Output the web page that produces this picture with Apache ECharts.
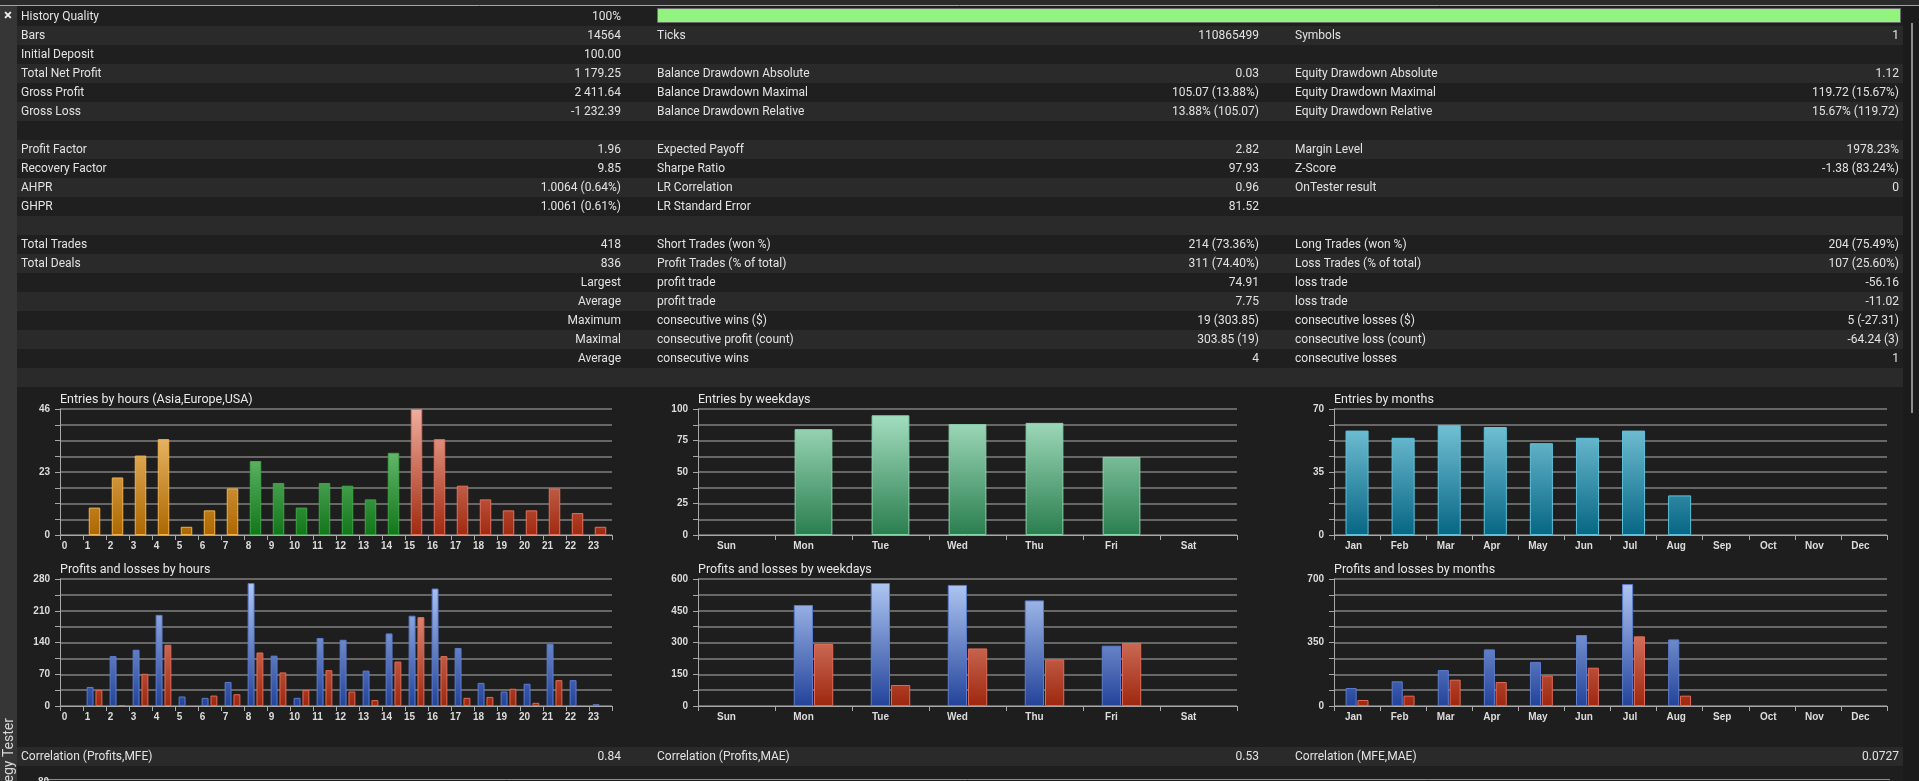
<!DOCTYPE html>
<html>
<head>
    <meta charset="utf-8">
    <style>
        html, body {
            width: 100%;
            height: 100%;
            margin: 0;
            background: #1e1e1e;
            overflow: hidden;
        }

        #chart-panel {
            width: 1919px;
            height: 781px;
        }
    </style>
    <script src="https://cdn.jsdelivr.net/npm/echarts@6/dist/echarts.min.js"></script>
</head>
<body>
<div id="chart-panel"></div>
<script type="text/javascript">
  // report table, one array per column
  var leftLabels = ['History Quality', 'Bars', 'Initial Deposit', 'Total Net Profit', 'Gross Profit', 'Gross Loss', '',
    'Profit Factor', 'Recovery Factor', 'AHPR', 'GHPR', '',
    'Total Trades', 'Total Deals', '', '', '', '', '', '']
  var leftValues = ['100%', '14564', '100.00', '1 179.25', '2 411.64', '-1 232.39', '',
    '1.96', '9.85', '1.0064 (0.64%)', '1.0061 (0.61%)', '',
    '418', '836', 'Largest', 'Average', 'Maximum', 'Maximal', 'Average', '']
  var midLabels = ['', 'Ticks', '', 'Balance Drawdown Absolute', 'Balance Drawdown Maximal', 'Balance Drawdown Relative', '',
    'Expected Payoff', 'Sharpe Ratio', 'LR Correlation', 'LR Standard Error', '',
    'Short Trades (won %)', 'Profit Trades (% of total)', 'profit trade', 'profit trade',
    'consecutive wins ($)', 'consecutive profit (count)', 'consecutive wins', '']
  var midValues = ['', '110865499', '', '0.03', '105.07 (13.88%)', '13.88% (105.07)', '',
    '2.82', '97.93', '0.96', '81.52', '',
    '214 (73.36%)', '311 (74.40%)', '74.91', '7.75', '19 (303.85)', '303.85 (19)', '4', '']
  var rightLabels = ['', 'Symbols', '', 'Equity Drawdown Absolute', 'Equity Drawdown Maximal', 'Equity Drawdown Relative', '',
    'Margin Level', 'Z-Score', 'OnTester result', '', '',
    'Long Trades (won %)', 'Loss Trades (% of total)', 'loss trade', 'loss trade',
    'consecutive losses ($)', 'consecutive loss (count)', 'consecutive losses', '']
  var rightValues = ['', '1', '', '1.12', '119.72 (15.67%)', '15.67% (119.72)', '',
    '1978.23%', '-1.38 (83.24%)', '0', '', '',
    '204 (75.49%)', '107 (25.60%)', '-56.16', '-11.02', '5 (-27.31)', '-64.24 (3)', '1', '']
  var historyQuality = 100

  var corrLabels = ['Correlation (Profits,MFE)', 'Correlation (Profits,MAE)', 'Correlation (MFE,MAE)']
  var corrValues = ['0.84', '0.53', '0.0727']

  // chart data
  var hourLabels = ['0', '1', '2', '3', '4', '5', '6', '7', '8', '9', '10', '11',
    '12', '13', '14', '15', '16', '17', '18', '19', '20', '21', '22', '23']
  var hourSession = [0, 0, 0, 0, 0, 0, 0, 0, 1, 1, 1, 1, 1, 1, 1, 2, 2, 2, 2, 2, 2, 2, 2, 2]
  var hourEntries = [0, 10, 21, 29, 35, 3, 9, 17, 27, 19, 10, 19, 18, 13, 30, 46, 35, 18, 13, 9, 9, 17, 8, 3]
  var hourProfits = [0, 42, 110, 124, 201, 21, 18, 53, 271, 111, 18, 150, 146, 78, 160, 199, 259, 128, 51, 32, 49, 137, 57, 4]
  var hourLosses = [0, 35, 2, 71, 135, 0, 23, 26, 118, 74, 35, 79, 32, 13, 98, 196, 110, 18, 20, 38, 7, 57, 0, 0]

  var dayLabels = ['Sun', 'Mon', 'Tue', 'Wed', 'Thu', 'Fri', 'Sat']
  var dayEntries = [0, 84, 95, 88, 89, 62, 0]
  var dayProfits = [0, 477, 581, 572, 499, 285, 0]
  var dayLosses = [0, 293, 99, 272, 220, 298, 0]

  var monthLabels = ['Jan', 'Feb', 'Mar', 'Apr', 'May', 'Jun', 'Jul', 'Aug', 'Sep', 'Oct', 'Nov', 'Dec']
  var monthEntries = [58, 54, 61, 60, 51, 54, 58, 22, 0, 0, 0, 0]
  var monthProfits = [99, 136, 198, 312, 243, 391, 672, 367, 0, 0, 0, 0]
  var monthLosses = [33, 57, 145, 132, 167, 211, 384, 57, 0, 0, 0, 0]

  // y axis: the labelled ticks, last one is the max (8 grid steps each)
  var hourEntryTicks = [0, 23, 46]
  var dayEntryTicks = [0, 25, 50, 75, 100]
  var monthEntryTicks = [0, 35, 70]
  var hourProfitTicks = [0, 70, 140, 210, 280]
  var dayProfitTicks = [0, 150, 300, 450, 600]
  var monthProfitTicks = [0, 350, 700]

  var FONT = 'Roboto, "Liberation Sans", sans-serif'
  var TEXT = '#e2e2e2'

  var myChart = echarts.init(document.getElementById('chart-panel'), null, {renderer: 'canvas'})

  // panel geometry
  var cols = [{left: 60, width: 552}, {left: 698, width: 539}, {left: 1334, width: 553}]
  var rows = [{top: 409, height: 126}, {top: 579, height: 127}]
  var titles = [
    ['Entries by hours (Asia,Europe,USA)', 'Entries by weekdays', 'Entries by months'],
    ['Profits and losses by hours', 'Profits and losses by weekdays', 'Profits and losses by months']
  ]

  function grad(row, c1, c2) {
    var r = rows[row]
    return {
      type: 'linear', x: 0, y: r.top, x2: 0, y2: r.top + r.height, global: true,
      colorStops: [{offset: 0, color: c1}, {offset: 1, color: c2}]
    }
  }

  var sessionStyle = [
    {color: grad(0, '#f8ca80', '#ad6700'), borderColor: '#f2b24e'},
    {color: grad(0, '#8fd894', '#11761a'), borderColor: '#3fa646'},
    {color: grad(0, '#f0ae9f', '#a1290f'), borderColor: '#e2705c'}
  ]
  var profitStyle = {color: grad(1, '#b4cbf6', '#23439a'), borderColor: '#5b7ccf', borderWidth: 1}
  var lossStyle = {color: grad(1, '#f6ab9b', '#9e270e'), borderColor: '#e26a55', borderWidth: 1}

  // empty buckets get no outline, so nothing shows on the axis
  function bars(values) {
    return values.map(function (v) {
      return v === 0 ? {value: v, itemStyle: {borderWidth: 0}} : v
    })
  }

  function tickFormatter(ticks) {
    return function (v) {
      return ticks.some(function (t) { return Math.abs(t - v) < 1e-6 }) ? String(v) : ''
    }
  }

  var grids = [], xAxes = [], yAxes = []
  var labelPad = [14, 20, 7]
  var catSets = [hourLabels, dayLabels, monthLabels]
  var tickSets = [[hourEntryTicks, dayEntryTicks, monthEntryTicks], [hourProfitTicks, dayProfitTicks, monthProfitTicks]]
  for (var r = 0; r < 2; r++) {
    for (var c = 0; c < 3; c++) {
      var idx = grids.length
      var ticks = tickSets[r][c]
      var ymax = ticks[ticks.length - 1]
      grids.push({left: cols[c].left, width: cols[c].width, top: rows[r].top, height: rows[r].height, containLabel: false})
      xAxes.push({
        type: 'category', gridIndex: idx, data: catSets[c], boundaryGap: true,
        axisLine: {show: true, lineStyle: {color: '#a8a8a8', width: 1}},
        axisTick: {show: true, length: 5, interval: 0, lineStyle: {color: '#a8a8a8'}},
        axisLabel: {
          interval: 0, margin: 6, color: '#dcdcdc', fontSize: 10, fontWeight: 'bold',
          fontFamily: '"Liberation Sans", Arial, sans-serif', padding: [0, labelPad[c], 0, 0]
        },
        splitLine: {show: false}
      })
      yAxes.push({
        type: 'value', gridIndex: idx, min: 0, max: ymax, interval: ymax / 8,
        axisLine: {show: true, lineStyle: {color: '#a8a8a8', width: 1}},
        axisTick: {show: true, length: 5, lineStyle: {color: '#a8a8a8'}},
        axisLabel: {
          margin: 10, color: '#dcdcdc', fontSize: 10, fontWeight: 'bold',
          fontFamily: '"Liberation Sans", Arial, sans-serif', formatter: tickFormatter(ticks)
        },
        splitLine: {show: true, lineStyle: {color: '#808080', width: 1.5}}
      })
    }
  }

  var series = [
    {
      name: 'entries by hours', type: 'bar', xAxisIndex: 0, yAxisIndex: 0, barWidth: '50%',
      data: hourEntries.map(function (v, i) {
        var s = sessionStyle[hourSession[i]]
        return {value: v, itemStyle: {color: s.color, borderColor: s.borderColor, borderWidth: v ? 1 : 0}}
      })
    },
    {
      name: 'entries by weekdays', type: 'bar', xAxisIndex: 1, yAxisIndex: 1, barWidth: '49%', data: bars(dayEntries),
      itemStyle: {color: grad(0, '#aae2c6', '#2a7e4e'), borderColor: '#86d4ac', borderWidth: 1}
    },
    {
      name: 'entries by months', type: 'bar', xAxisIndex: 2, yAxisIndex: 2, barWidth: '50%', data: bars(monthEntries),
      itemStyle: {color: grad(0, '#82cde0', '#066684'), borderColor: '#5cc2da', borderWidth: 1}
    },
    {name: 'profits by hours', type: 'bar', xAxisIndex: 3, yAxisIndex: 3, barWidth: '30%', barGap: '28%', data: bars(hourProfits), itemStyle: profitStyle},
    {name: 'losses by hours', type: 'bar', xAxisIndex: 3, yAxisIndex: 3, barWidth: '30%', barGap: '28%', data: bars(hourLosses), itemStyle: lossStyle},
    {name: 'profits by weekdays', type: 'bar', xAxisIndex: 4, yAxisIndex: 4, barWidth: '25%', barGap: '5%', data: bars(dayProfits), itemStyle: profitStyle},
    {name: 'losses by weekdays', type: 'bar', xAxisIndex: 4, yAxisIndex: 4, barWidth: '25%', barGap: '5%', data: bars(dayLosses), itemStyle: lossStyle},
    {name: 'profits by months', type: 'bar', xAxisIndex: 5, yAxisIndex: 5, barWidth: '24%', barGap: '7%', data: bars(monthProfits), itemStyle: profitStyle},
    {name: 'losses by months', type: 'bar', xAxisIndex: 5, yAxisIndex: 5, barWidth: '24%', barGap: '7%', data: bars(monthLosses), itemStyle: lossStyle}
  ]

  // static decoration and the report table
  var g = []
  function text(x, y, s, align, extra) {
    var st = {text: s, fill: TEXT, font: '12px ' + FONT, align: align || 'left', verticalAlign: 'middle'}
    for (var k in (extra || {})) st[k] = extra[k]
    return {type: 'text', x: x, y: y, style: st, silent: true}
  }

  g.push({type: 'rect', shape: {x: 0, y: 0, width: 1919, height: 5}, style: {fill: '#2b2b2b'}})
  g.push({type: 'line', shape: {x1: 0, y1: 5.5, x2: 1919, y2: 5.5}, style: {stroke: '#a4a4a4', lineWidth: 1}})
  g.push({type: 'rect', shape: {x: 0, y: 6, width: 17, height: 775}, style: {fill: '#363636'}})
  g.push({type: 'rect', shape: {x: 1903, y: 6, width: 16, height: 775}, style: {fill: '#1b1b1b'}})
  g.push({type: 'line', shape: {x1: 1912, y1: 23, x2: 1912, y2: 413}, style: {stroke: '#8c8c8c', lineWidth: 2}})

  for (var i = 0; i < leftLabels.length; i++) {
    var y0 = 7 + 19 * i
    var cy = y0 + 9.5
    g.push({type: 'rect', shape: {x: 17, y: y0, width: 1886, height: 19}, style: {fill: i % 2 ? '#2a2a2a' : '#1f1f1f'}})
    if (leftLabels[i]) g.push(text(21, cy, leftLabels[i]))
    if (leftValues[i]) g.push(text(621, cy, leftValues[i], 'right'))
    if (midLabels[i]) g.push(text(657, cy, midLabels[i]))
    if (midValues[i]) g.push(text(1259, cy, midValues[i], 'right'))
    if (rightLabels[i]) g.push(text(1295, cy, rightLabels[i]))
    if (rightValues[i]) g.push(text(1899, cy, rightValues[i], 'right'))
  }
  // history quality bar
  g.push({type: 'rect', shape: {x: 657.5, y: 8.5, width: 1243 * historyQuality / 100, height: 14},
    style: {fill: '#92f47e', stroke: '#6b6b6b', lineWidth: 1}})
  g.push(text(8, 16.5, '×', 'center', {font: 'bold 15px ' + FONT, fill: '#f0f0f0'}))

  // chart titles
  for (var r2 = 0; r2 < 2; r2++) {
    for (var c2 = 0; c2 < 3; c2++) {
      g.push(text(cols[c2].left, r2 ? 570 : 400, titles[r2][c2], 'left', {fill: '#e8e8e8', font: '12.5px ' + FONT}))
    }
  }

  // correlation row
  g.push({type: 'rect', shape: {x: 17, y: 747, width: 1886, height: 19}, style: {fill: '#2a2a2a'}})
  var corrX = [[21, 621], [657, 1259], [1295, 1899]]
  for (var j = 0; j < 3; j++) {
    g.push(text(corrX[j][0], 757, corrLabels[j]))
    g.push(text(corrX[j][1], 757, corrValues[j], 'right'))
  }
  // top of the next chart row, clipped by the window
  g.push({type: 'line', shape: {x1: 45, y1: 779.5, x2: 1890, y2: 779.5}, style: {stroke: '#8c8c8c', lineWidth: 1}})
  g.push(text(49, 782, '80', 'right', {font: 'bold 10px "Liberation Sans", Arial, sans-serif', fill: '#dcdcdc'}))
  // side tab caption
  g.push({type: 'text', x: 9, y: 718, rotation: Math.PI / 2, silent: true,
    style: {text: 'Strategy Tester', fill: '#d8d8d8', font: '14px ' + FONT, align: 'right', verticalAlign: 'middle'}})

  var option = {
    backgroundColor: '#1e1e1e',
    animation: false,
    textStyle: {fontFamily: FONT},
    grid: grids,
    xAxis: xAxes,
    yAxis: yAxes,
    series: series,
    graphic: {elements: g}
  }

  myChart.setOption(option)
</script>
</body>
</html>
